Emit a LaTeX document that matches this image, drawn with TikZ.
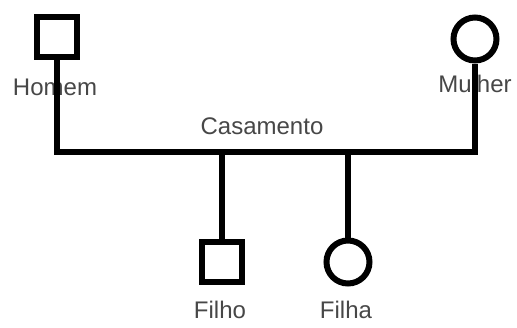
\documentclass[tikz,border=0pt]{standalone}
\usepackage{fontspec}
\setmainfont{Liberation Sans}
\definecolor{txt}{HTML}{474747}
\begin{document}
\begin{tikzpicture}[x=1pt,y=-1pt,
  lbl/.style={text=txt,font=\fontsize{24}{28}\selectfont,inner sep=0pt,anchor=center},
  male/.style={draw=black,line width=6pt,rectangle,minimum size=40pt,inner sep=0pt,fill=white},
  female/.style={draw=black,line width=6pt,circle,minimum size=43pt,inner sep=0pt,fill=white},
  link/.style={draw=black,line width=6pt,line join=miter}]
\useasboundingbox[fill=white] (0,0) rectangle (517,327);
% labels first (lines pass over them)
\node[lbl] (thomem) at (55,87) {Homem};
\node[lbl] (tmulher) at (475,84) {Mulher};
\node[lbl] (tcas) at (262,126) {Casamento};
\node[lbl] (tfilho) at (220,310) {Filho};
\node[lbl] (tfilha) at (346,310) {Filha};
% persons
\node[male] (homem) at (57,37) {};
\node[female] (mulher) at (475,39) {};
\node[male] (filho) at (222,262) {};
\node[female] (filha) at (348,262) {};
% marriage line points
\coordinate (m1) at (222,152);
\coordinate (m2) at (348,152);
\draw[link] (homem.south) |- (m1) -- (m2) -| (mulher.south);
\draw[link] (m1) -- (filho.north);
\draw[link] (m2) -- (filha.north);
\end{tikzpicture}
\end{document}
